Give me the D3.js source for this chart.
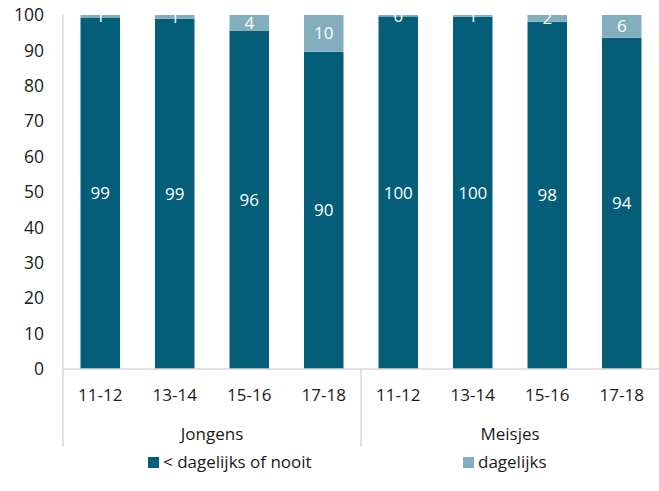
<!DOCTYPE html>
<html><head><meta charset="utf-8">
<script src="https://cdn.jsdelivr.net/npm/d3@7"></script>
<style>body{margin:0;background:#fff;} text{font-family:"Open Sans",sans-serif;}</style>
</head><body>
<svg id="c" width="659" height="491"></svg>
<script>
const groups = ["Jongens","Meisjes"];
const ages = ["11-12","13-14","15-16","17-18"];
const seriesNames = ["< dagelijks of nooit","dagelijks"];
const lessThanDaily = [99.3, 98.9, 95.6, 89.6, 99.6, 99.5, 98.1, 93.6];
const daily = [0.7, 1.1, 4.4, 10.4, 0.4, 0.5, 1.9, 6.4];
const yTicks = [0,10,20,30,40,50,60,70,80,90,100];
const colors = ["#045e79","#83aebd"];

(function(){
const svg = d3.select("#c");
const mL = 63, mR = 659, mT = 15, mB = 369;
const cats = [];
groups.forEach(g => ages.forEach(a => cats.push(g + "|" + a)));
const x = d3.scaleBand().domain(cats).range([mL, mR]).paddingInner(0.47).paddingOuter(0.235);
const y = d3.scaleLinear().domain([0,100]).range([mB, mT]);

const yAxis = d3.axisLeft(y).tickValues(yTicks).tickSize(0).tickPadding(19);
const ya = svg.append("g").attr("transform", `translate(${mL},0)`).call(yAxis);
ya.select(".domain").remove();
ya.selectAll("text").attr("font-size", 17.5).attr("fill", "#1a1a1a").attr("font-family", "Open Sans");
svg.append("line").attr("x1", mL).attr("x2", mL).attr("y1", mT).attr("y2", 447).attr("stroke", "#d9d9d9").attr("stroke-width", 1.5);

const rows = cats.map((c, i) => ({cat: c, v0: lessThanDaily[i], v1: daily[i]}));
const stack = d3.stack().keys(["v0","v1"])(rows);
stack.forEach((layer, li) => {
  const g = svg.append("g");
  g.selectAll("rect").data(layer).enter().append("rect")
    .attr("x", d => x(d.data.cat))
    .attr("width", x.bandwidth())
    .attr("y", d => y(d[1]))
    .attr("height", d => y(d[0]) - y(d[1]))
    .attr("fill", colors[li]);
  g.selectAll("text").data(layer).enter().append("text")
    .attr("x", d => x(d.data.cat) + x.bandwidth()/2)
    .attr("y", d => y((d[0]+d[1])/2))
    .attr("dy", "0.35em")
    .attr("text-anchor", "middle")
    .attr("fill", "#fff")
    .attr("font-size", 17)
    .text(d => Math.round(d[1]-d[0]));
});

svg.append("line").attr("x1", mL).attr("x2", mR).attr("y1", mB).attr("y2", mB).attr("stroke", "#d9d9d9").attr("stroke-width", 1.5);

svg.append("g").selectAll("text").data(cats).enter().append("text")
  .attr("x", d => x(d) + x.bandwidth()/2).attr("y", 401)
  .attr("text-anchor", "middle").attr("font-size", 17).attr("fill", "#1a1a1a")
  .text(d => d.split("|")[1]);

const gw = (mR - mL) / groups.length;
groups.forEach((g, i) => {
  svg.append("text").attr("x", mL + gw*i + gw/2).attr("y", 440)
    .attr("text-anchor", "middle").attr("font-size", 17).attr("fill", "#1a1a1a").text(g);
  if (i > 0) svg.append("line").attr("x1", mL + gw*i).attr("x2", mL + gw*i)
    .attr("y1", mB).attr("y2", 447).attr("stroke", "#d9d9d9").attr("stroke-width", 1.5);
});

const legX = [148, 463];
seriesNames.forEach((s, i) => {
  svg.append("rect").attr("x", legX[i]).attr("y", 457).attr("width", 11).attr("height", 11).attr("fill", colors[i]);
  svg.append("text").attr("x", legX[i] + 15).attr("y", 468).attr("font-size", 17).attr("fill", "#1a1a1a").text(s);
});
})();
</script>
</body></html>
